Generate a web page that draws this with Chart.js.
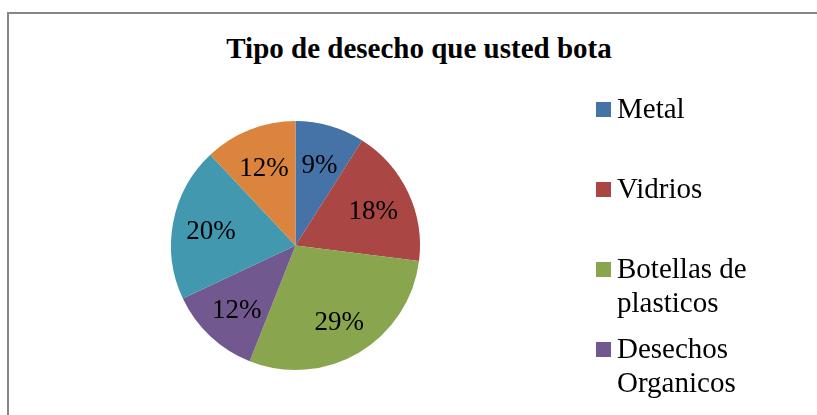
<!DOCTYPE html>
<html>
<head>
<meta charset="utf-8">
<script src="https://cdn.jsdelivr.net/npm/chart.js@4"></script>
<style>
  html, body { margin: 0; padding: 0; width: 817px; height: 415px; overflow: hidden; background: #fff; }
  #frame { position: absolute; left: 7px; top: 12px; width: 900px; height: 500px; border: 2px solid #878787; }
  #title {
    position: absolute; left: 0; top: 31px; width: 838px; text-align: center;
    font: bold 29px 'Liberation Serif', 'Times New Roman', serif; line-height: 34px; color: #000;
  }
  #pie { position: absolute; left: 0; top: 0; }
  #legend { position: absolute; left: 596px; top: 91px; }
  .item { display: flex; height: 80px; }
  .box { width: 15px; height: 15px; margin-top: 11px; margin-right: 6px; flex: none; }
  .txt { font-family: 'Liberation Serif', 'Times New Roman', serif; font-size: 29px; line-height: 34px; color: #000; width: 150px; }
</style>
</head>
<body>
<div id="frame"></div>
<div id="title">Tipo de desecho que usted bota</div>
<canvas id="pie" width="817" height="415"></canvas>
<div id="legend"></div>
<script>
const LABEL_FONT = "'Liberation Serif', 'Times New Roman', serif";

// slices, clockwise from 12 o'clock
const labels  = ['Metal', 'Vidrios', 'Botellas de plasticos', 'Desechos Organicos', 'Papel', 'Otros'];
const values  = [9, 18, 29, 12, 20, 12];
const colors  = ['#4572A7', '#AA4643', '#89A54E', '#71588F', '#4198AF', '#DB843D'];

const percentLabels = {
  id: 'percentLabels',
  afterDatasetsDraw(chart) {
    const { ctx } = chart;
    const total = values.reduce((a, b) => a + b, 0);
    const meta = chart.getDatasetMeta(0);
    ctx.save();
    ctx.font = '27px ' + LABEL_FONT;
    ctx.fillStyle = '#000';
    ctx.textAlign = 'center';
    ctx.textBaseline = 'middle';
    meta.data.forEach((arc, i) => {
      const { x, y, startAngle, endAngle, outerRadius } = arc.getProps(['x', 'y', 'startAngle', 'endAngle', 'outerRadius'], true);
      const mid = (startAngle + endAngle) / 2;
      const r = outerRadius * 0.69;
      const pct = Math.round(values[i] / total * 100) + '%';
      ctx.fillText(pct, x + Math.cos(mid) * r, y + Math.sin(mid) * r + 3);
    });
    ctx.restore();
  }
};

new Chart(document.getElementById('pie'), {
  type: 'pie',
  data: {
    labels,
    datasets: [{
      data: values,
      backgroundColor: colors,
      borderWidth: 0
    }]
  },
  options: {
    responsive: false,
    animation: false,
    layout: { padding: { left: 171, top: 121, right: 397, bottom: 45 } },
    plugins: {
      legend: { display: false },
      title: { display: false },
      tooltip: { enabled: false }
    }
  },
  plugins: [percentLabels]
});

const legendEl = document.getElementById('legend');
labels.forEach((lab, i) => {
  const item = document.createElement('div');
  item.className = 'item';
  const box = document.createElement('div');
  box.className = 'box';
  box.style.background = colors[i];
  const txt = document.createElement('div');
  txt.className = 'txt';
  txt.textContent = lab;
  item.appendChild(box);
  item.appendChild(txt);
  legendEl.appendChild(item);
});
</script>
</body>
</html>
